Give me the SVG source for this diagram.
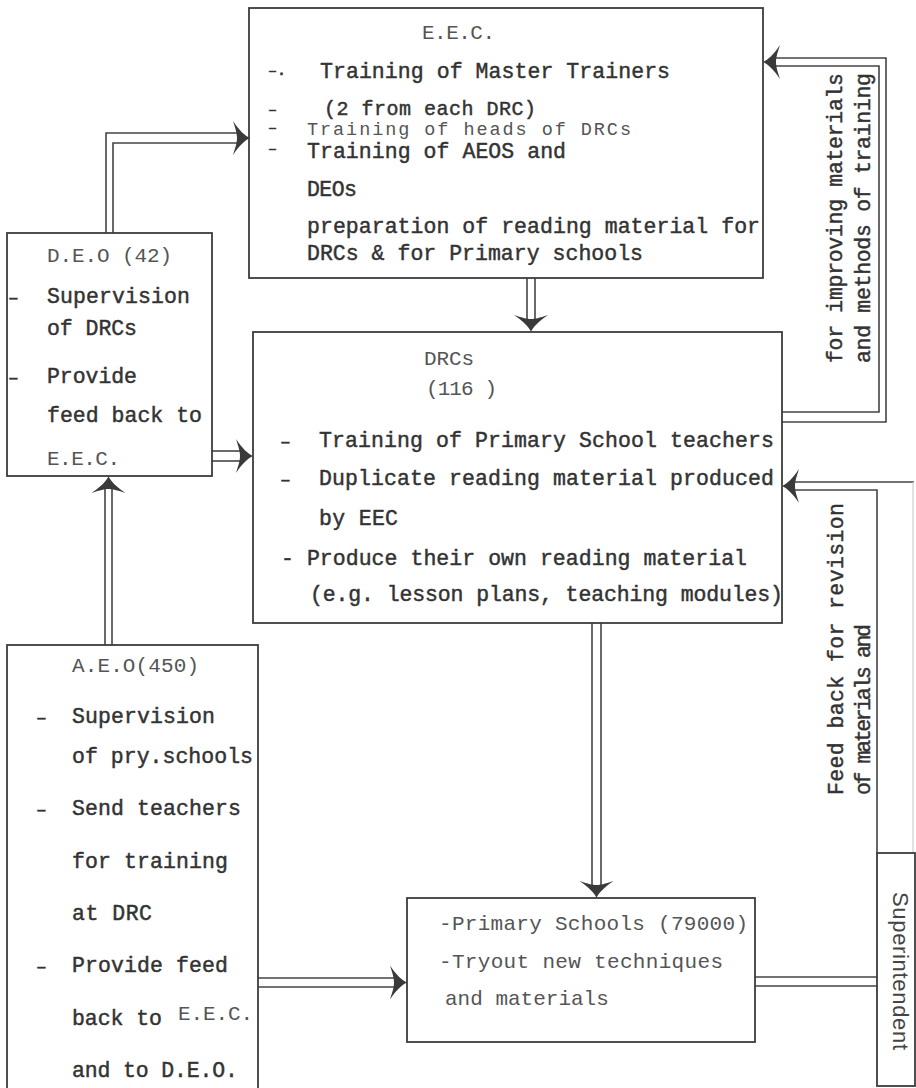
<svg xmlns="http://www.w3.org/2000/svg" width="916" height="1088" viewBox="0 0 916 1088">
<style>
.box{fill:none;stroke:#3c3c3c;stroke-width:1.8}
.ln{fill:none;stroke:#444;stroke-width:1.6}
.faint{fill:none;stroke:#cfcfcf;stroke-width:1.2}
.t{font-family:"Liberation Mono","DejaVu Sans Mono",monospace;font-size:21.5px;fill:#333;stroke:#333;stroke-width:0.45}
.tt{font-family:"Liberation Mono","DejaVu Sans Mono",monospace;font-size:21px;fill:#555}
.d{font-family:"Liberation Mono","DejaVu Sans Mono",monospace;font-size:18px;fill:#333;stroke:#333;stroke-width:0.6}
.de{font-family:"Liberation Mono","DejaVu Sans Mono",monospace;font-size:15px;fill:#333;stroke:#333;stroke-width:0.7}
.ss{font-family:"Liberation Sans",Arial,sans-serif;font-size:22px;fill:#444}
.ah{fill:#3a3a3a}
</style>
<defs>
<path id="ah" class="ah" d="M0,0 C-5,-2 -11,-8 -17,-17 C-14,-8 -13,-4 -13,0 C-13,4 -14,8 -17,17 C-11,8 -5,2 0,0 Z"/>
</defs>
<rect width="916" height="1088" fill="#fff"/>

<g id="connectors">
  <!-- DEO to EEC -->
  <polyline class="ln" points="106,233 106,133 238,133"/>
  <polyline class="ln" points="113,233 113,143 238,143"/>
  <use href="#ah" transform="translate(250,138)"/>
  <!-- EEC to DRC -->
  <line class="ln" x1="527" y1="278" x2="527" y2="320"/>
  <line class="ln" x1="535" y1="278" x2="535" y2="320"/>
  <use href="#ah" transform="translate(531,332) rotate(90)"/>
  <!-- DEO to DRC -->
  <line class="ln" x1="212" y1="451" x2="241" y2="451"/>
  <line class="ln" x1="212" y1="461" x2="241" y2="461"/>
  <use href="#ah" transform="translate(253,456)"/>
  <!-- DRC to Primary -->
  <line class="ln" x1="592" y1="623" x2="592" y2="886"/>
  <line class="ln" x1="601" y1="623" x2="601" y2="886"/>
  <use href="#ah" transform="translate(596.5,898) rotate(90)"/>
  <!-- AEO to DEO -->
  <line class="ln" x1="105" y1="645" x2="105" y2="488"/>
  <line class="ln" x1="112" y1="645" x2="112" y2="488"/>
  <use href="#ah" transform="translate(108.5,476) rotate(-90)"/>
  <!-- AEO to Primary -->
  <line class="ln" x1="258" y1="978" x2="395" y2="978"/>
  <line class="ln" x1="258" y1="987" x2="395" y2="987"/>
  <use href="#ah" transform="translate(407,982.5)"/>
  <!-- Primary to Superintendent -->
  <line class="ln" x1="755" y1="977" x2="877" y2="977"/>
  <line class="ln" x1="755" y1="986" x2="877" y2="986"/>
  <!-- top feedback loop DRC to EEC -->
  <polyline class="ln" points="782,422 886,422 886,58 775,58"/>
  <polyline class="ln" points="782,412 879,412 879,66 775,66"/>
  <use href="#ah" transform="translate(763,62) rotate(180)"/>
  <!-- bottom feedback loop to DRC -->
  <polyline class="ln" points="794,482 914,482"/>
  <polyline class="ln" points="794,490 877,490 877,853"/>
  <line class="faint" x1="913" y1="482" x2="913" y2="853"/>
  <use href="#ah" transform="translate(782,486) rotate(180)"/>
  <!-- rotated labels -->
  <text class="t" transform="translate(842,363) rotate(-90)" textLength="290">for improving materials</text>
  <text class="t" transform="translate(870,363) rotate(-90)" textLength="290">and methods of training</text>
  <text class="t" transform="translate(843,795) rotate(-90)" textLength="292">Feed back for revision</text>
  <text class="t" transform="translate(870,795) rotate(-90)" textLength="171">of materials and</text>
</g>

<g id="eec">
  <rect class="box" x="249" y="8" width="514" height="270"/>
  <text class="tt" x="422" y="39" textLength="73">E.E.C.</text>
  <text class="de" x="268" y="75">–.</text>
  <text class="t" x="320" y="78" textLength="350">Training of Master Trainers</text>
  <text class="de" x="268" y="114">–</text>
  <text class="t" x="324" y="115" style="font-size:20px" textLength="212">(2 from each DRC)</text>
  <text class="de" x="268" y="132">–</text>
  <text class="tt" x="307" y="135" style="font-size:18.5px" textLength="324">Training of heads of DRCs</text>
  <text class="de" x="268" y="153">–</text>
  <text class="t" x="307" y="158" textLength="259">Training of AEOS and</text>
  <text class="t" x="307" y="196" textLength="50">DEOs</text>
  <text class="t" x="307" y="233" textLength="453">preparation of reading material for</text>
  <text class="t" x="307" y="260" textLength="336">DRCs &amp; for Primary schools</text>
</g>

<g id="deo">
  <rect class="box" x="7" y="233" width="205" height="243"/>
  <text class="tt" x="47" y="262" textLength="125">D.E.O (42)</text>
  <text class="d" x="8" y="303">–</text>
  <text class="t" x="47" y="303" textLength="143">Supervision</text>
  <text class="t" x="47" y="335" textLength="90">of DRCs</text>
  <text class="d" x="8" y="383">–</text>
  <text class="t" x="47" y="383" textLength="90">Provide</text>
  <text class="t" x="47" y="422" textLength="155">feed back to</text>
  <text class="tt" x="47" y="465" textLength="73">E.E.C.</text>
</g>

<g id="drc">
  <rect class="box" x="253" y="332" width="529" height="291"/>
  <text class="tt" x="424" y="365" textLength="50">DRCs</text>
  <text class="tt" x="426" y="395" textLength="71">(116 )</text>
  <text class="d" x="280" y="447">–</text>
  <text class="t" x="319" y="447" textLength="455">Training of Primary School teachers</text>
  <text class="d" x="280" y="485">–</text>
  <text class="t" x="319" y="485" textLength="455">Duplicate reading material produced</text>
  <text class="t" x="319" y="525" textLength="79">by EEC</text>
  <text class="t" x="281" y="565" textLength="466">- Produce their own reading material</text>
  <text class="t" x="310" y="601" textLength="473">(e.g. lesson plans, teaching modules)</text>
</g>

<g id="aeo">
  <rect class="box" x="7" y="645" width="251" height="460"/>
  <text class="tt" x="72" y="672" textLength="127">A.E.O(450)</text>
  <text class="d" x="36" y="723">–</text>
  <text class="t" x="72" y="723" textLength="143">Supervision</text>
  <text class="t" x="72" y="763" textLength="181">of pry.schools</text>
  <text class="d" x="36" y="815">–</text>
  <text class="t" x="72" y="815" textLength="169">Send teachers</text>
  <text class="t" x="72" y="868" textLength="156">for training</text>
  <text class="t" x="72" y="920" textLength="80">at DRC</text>
  <text class="d" x="36" y="972">–</text>
  <text class="t" x="72" y="972" textLength="156">Provide feed</text>
  <text class="t" x="72" y="1025" textLength="90">back to</text>
  <text class="tt" x="178" y="1020" textLength="75">E.E.C.</text>
  <text class="t" x="72" y="1077" textLength="166">and to D.E.O.</text>
</g>

<g id="primary">
  <rect class="box" x="407" y="898" width="348" height="144"/>
  <text class="tt" x="439" y="930" textLength="309">-Primary Schools (79000)</text>
  <text class="tt" x="439" y="968" textLength="284">-Tryout new techniques</text>
  <text class="tt" x="445" y="1005">and materials</text>
</g>

<g id="superintendent">
  <rect class="box" x="877" y="853" width="38" height="233"/>
  <text class="ss" transform="translate(893,892) rotate(90)" textLength="158">Superintendent</text>
</g>
</svg>
